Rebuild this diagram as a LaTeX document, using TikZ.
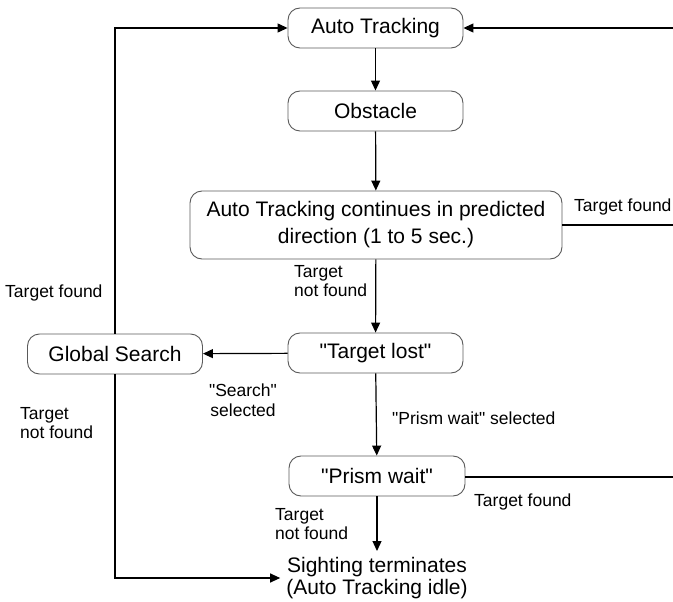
\documentclass[tikz,border=0pt]{standalone}
\usepackage{fontspec}
\setmainfont{Liberation Sans}
\newfontfamily\arialf{Liberation Sans}
\usetikzlibrary{arrows.meta}
\definecolor{boxgray}{HTML}{5A5A5A}
\begin{document}
\begin{tikzpicture}[x=1pt,y=-1pt,
  box/.style={draw=boxgray, line width=0.9pt, rounded corners=12pt, minimum width=175pt, minimum height=40pt, font=\arialf\fontsize{21}{27}\selectfont, inner sep=0pt, align=center},
  lbl/.style={font=\arialf\fontsize{17.5}{19.5}\selectfont, inner sep=0pt},
  line/.style={line width=1.2pt, draw=black},
  conn/.style={line, -{Triangle[length=10pt,width=9pt]}}]
\useasboundingbox (0,0) rectangle (673,602);
\node[box] (auto) at (375.5,28) {Auto Tracking};
\node[box] (obst) at (375.5,111) {Obstacle};
\node[box, minimum width=372pt, minimum height=68pt] (cont) at (376,225) {Auto Tracking continues in predicted\\direction (1 to 5 sec.)};
\node[box] (lost) at (375.5,353) {"Target lost"};
\node[box] (glob) at (115,354) {Global Search};
\node[box, minimum width=176pt] (prism) at (377,476) {"Prism wait"};
\node[font=\arialf\fontsize{21}{22}\selectfont, align=center, inner sep=6pt] (sight) at (377,578) {Sighting terminates\\(Auto Tracking idle)};
\coordinate (r0) at (673,28);
\coordinate (r1) at (673,225);
\coordinate (r2) at (673,477);
\draw[conn] (auto) -- (obst);
\draw[conn] (obst) -- (cont);
\draw[conn] (cont) -- (lost);
\draw[conn] (lost) -- (glob);
\draw[conn] (lost) -- (prism);
\draw[conn] (prism.south) -- (sight.north);
\draw[conn] (glob.north) |- (auto.west);
\draw[conn] (r0) -- (auto.east);
\draw[line] (cont.east |- r1) -- (r1);
\draw[line] (prism.east |- r2) -- (r2);
\draw[conn] (glob.south) |- (sight.west);
\node[lbl, anchor=west] (l1) at (574,207) {Target found};
\node[lbl, anchor=north west, align=left] (l2) at (294,265) {Target\\not found};
\node[lbl, anchor=west] (l3) at (5,293) {Target found};
\node[lbl, align=center] (l4) at (243,400) {"Search"\\selected};
\node[lbl, anchor=north west, align=left] (l5) at (20,407) {Target\\not found};
\node[lbl, anchor=west] (l6) at (392,418) {"Prism wait" selected};
\node[lbl, anchor=west] (l7) at (474,502) {Target found};
\node[lbl, anchor=north west, align=left] (l8) at (275,508) {Target\\not found};
\end{tikzpicture}
\end{document}
